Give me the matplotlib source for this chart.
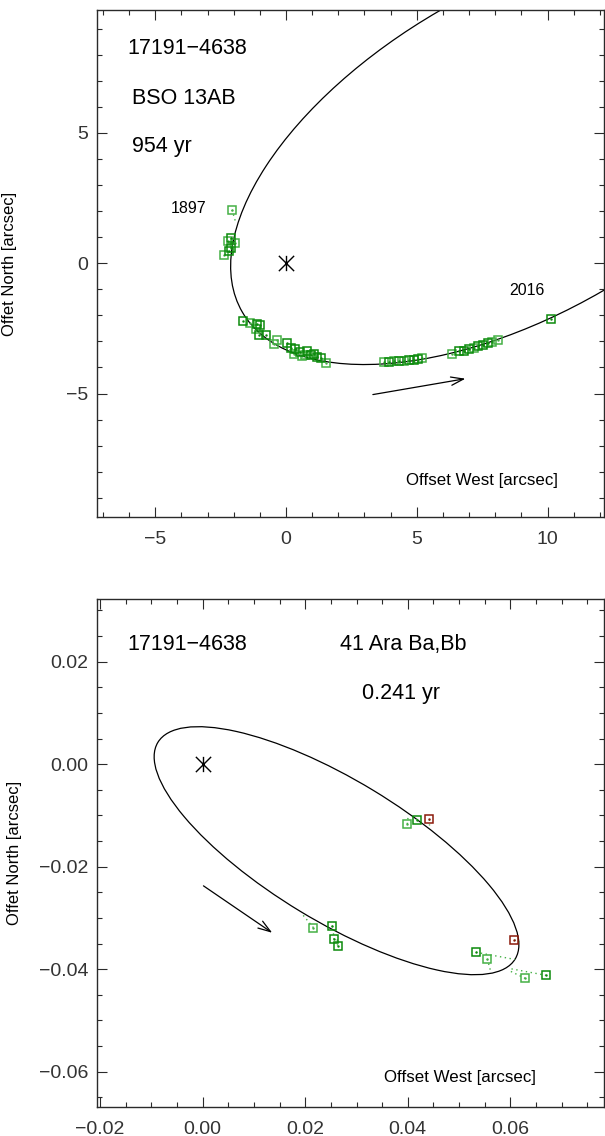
import numpy as np
import matplotlib

matplotlib.use("Agg")
import matplotlib.pyplot as plt
from matplotlib.patches import Ellipse
from matplotlib.path import Path
from matplotlib.ticker import MultipleLocator, FuncFormatter

plt.rcParams["font.family"] = ["Liberation Sans", "DejaVu Sans"]

# ---- top panel: BSO 13AB (954 yr) ----
top_orbit = dict(center=(8.972, 4.304), width=24.615, height=12.433, angle=30.14)
top_dark_x = [-2.12, -2.12, -2.17, -1.65, -1.13, -1.00, -1.04, -0.78, 0.05, 0.17,
              0.36, 0.55, 0.81, 0.94, 1.06, 1.19, 1.32, 3.92, 4.31, 4.69,
              4.88, 5.03, 6.60, 6.79, 6.98, 7.36, 7.55, 7.74, 10.12]
top_dark_y = [0.97, 0.57, 0.46, -2.23, -2.32, -2.36, -2.74, -2.77, -3.05, -3.26,
              -3.28, -3.41, -3.35, -3.54, -3.47, -3.60, -3.64, -3.80, -3.76, -3.73,
              -3.70, -3.68, -3.37, -3.35, -3.30, -3.19, -3.14, -3.07, -2.15]
top_light_x = [-2.07, -2.37, -2.21, -1.97, -1.38, -1.16, -0.47, -0.34, 0.30, 0.62,
               0.74, 1.51, 3.73, 4.11, 4.50, 5.20, 6.34, 7.17, 7.87, 8.12]
top_light_y = [2.05, 0.31, 0.87, 0.78, -2.28, -2.54, -3.09, -2.96, -3.47, -3.56,
               -3.51, -3.82, -3.80, -3.77, -3.74, -3.64, -3.50, -3.26, -3.03, -2.94]
top_resid = [((-2.07, -1.92), (2.05, 1.55))]
top_arrow = ((3.32, -5.04), (6.86, -4.43))

# ---- bottom panel: 41 Ara Ba,Bb (0.241 yr) ----
bot_orbit = dict(center=(0.026097, -0.016881), width=0.081496, height=0.027566, angle=-31.24)
bot_dark_x = [0.0418, 0.0252, 0.0256, 0.0263, 0.0533, 0.0670]
bot_dark_y = [-0.0109, -0.0315, -0.0342, -0.0354, -0.0367, -0.0412]
bot_dark_fit_x = [0.0415, 0.0255, 0.0255, 0.0262, 0.0609, 0.0600]
bot_dark_fit_y = [-0.0102, -0.0323, -0.0330, -0.0334, -0.0381, -0.0399]
bot_light_x = [0.0399, 0.0216, 0.0555, 0.0629]
bot_light_y = [-0.0117, -0.0319, -0.0380, -0.0418]
bot_light_fit_x = [0.0401, 0.0196, 0.0561, 0.0596]
bot_light_fit_y = [-0.0098, -0.0295, -0.0402, -0.0402]
bot_red_x = [0.0441, 0.0608]
bot_red_y = [-0.0106, -0.0343]
bot_red_fit_x = [0.0441, 0.0618]
bot_red_fit_y = [-0.0118, -0.0346]
bot_arrow = ((0.00015, -0.02374), (0.01356, -0.0329))

DARK = "#0b8a0b"
LIGHT = "#45b045"
RED = "#8b1a0a"
AXC = "#2a2a2a"

W, H = 605, 1136

# IDL-style asterisk: vertical bar plus a diagonal cross
ASTERISK = Path(
    [(0, -1), (0, 1), (-1, -1), (1, 1), (-1, 1), (1, -1)],
    [Path.MOVETO, Path.LINETO, Path.MOVETO, Path.LINETO, Path.MOVETO, Path.LINETO],
)


def px_axes(left, top, width, height):
    return [left / W, 1 - (top + height) / H, width / W, height / H]


def style_axes(ax, major, minor, fmt):
    label = FuncFormatter(lambda v, pos: (fmt % v).replace("-", "\u2212"))
    ax.xaxis.set_major_locator(MultipleLocator(major))
    ax.xaxis.set_minor_locator(MultipleLocator(minor))
    ax.yaxis.set_major_locator(MultipleLocator(major))
    ax.yaxis.set_minor_locator(MultipleLocator(minor))
    ax.xaxis.set_major_formatter(label)
    ax.yaxis.set_major_formatter(label)
    ax.tick_params(which="both", direction="in", top=True, right=True,
                   color=AXC, width=0.8, labelcolor="#333333", labelsize=14)
    ax.tick_params(which="major", length=7)
    ax.tick_params(which="minor", length=3.8)
    ax.tick_params(axis="x", which="major", pad=10)
    ax.tick_params(axis="y", which="major", pad=6)
    for s in ax.spines.values():
        s.set_color(AXC)
        s.set_linewidth(1.0)


def draw_orbit(ax, orbit, arrow):
    ax.add_patch(Ellipse(orbit["center"], orbit["width"], orbit["height"],
                         angle=orbit["angle"], fill=False, lw=0.9, color="black"))
    ax.plot(0, 0, ls="none", marker=ASTERISK, ms=11, mew=1.0, color="black")
    ax.annotate("", xy=arrow[1], xytext=arrow[0],
                arrowprops=dict(arrowstyle="->,head_length=0.9,head_width=0.3",
                                lw=0.9, color="black", shrinkA=0, shrinkB=0))


def squares(ax, x, y, color):
    ax.plot(x, y, ls="none", marker="s", ms=6, mfc="none", mec=color, mew=1.1)
    ax.plot(x, y, ls="none", marker=".", ms=1.5, color=color)


def residuals(ax, x, y, fx, fy, color):
    for a, b, c, d in zip(x, y, fx, fy):
        ax.plot([a, c], [b, d], ls=(0, (1, 2.5)), lw=1.0, color=color)


def ptext(ax, x, y, s, size, box_top, box_h=507.5):
    ax.text((x - 96.5) / 507.5, 1 - (y - box_top) / box_h, s, fontsize=size,
            transform=ax.transAxes, ha="left", va="center")


fig = plt.figure(figsize=(W / 100, H / 100), dpi=100)

# top panel
ax1 = fig.add_axes(px_axes(96.5, 10, 507.5, 507.3))
draw_orbit(ax1, top_orbit, top_arrow)
for xs, ys in top_resid:
    ax1.plot(xs, ys, ls=(0, (1, 2.5)), lw=1.0, color=LIGHT)
squares(ax1, top_light_x, top_light_y, LIGHT)
squares(ax1, top_dark_x, top_dark_y, DARK)
ax1.set_xlim(-7.25, 12.16)
ax1.set_ylim(-9.75, 9.72)
style_axes(ax1, 5, 1, "%g")
ax1.set_ylabel("Offet North [arcsec]", fontsize=12)
ax1.yaxis.set_label_coords(-0.156, 0.5)

ptext(ax1, 127.5, 49, "17191\u22124638", 15.5, 10)
ptext(ax1, 132.5, 98.5, "BSO 13AB", 15.5, 10)
ptext(ax1, 132.5, 147, "954 yr", 15.5, 10)
ptext(ax1, 171, 209, "1897", 11.5, 10)
ptext(ax1, 509, 291, "2016", 11.5, 10)
ptext(ax1, 405.5, 481, "Offset West [arcsec]", 12.2, 10)

# bottom panel
ax2 = fig.add_axes(px_axes(96.5, 599, 507.5, 508.3))
draw_orbit(ax2, bot_orbit, bot_arrow)
residuals(ax2, bot_light_x, bot_light_y, bot_light_fit_x, bot_light_fit_y, LIGHT)
residuals(ax2, bot_dark_x, bot_dark_y, bot_dark_fit_x, bot_dark_fit_y, LIGHT)
residuals(ax2, bot_red_x, bot_red_y, bot_red_fit_x, bot_red_fit_y, LIGHT)
squares(ax2, bot_light_x, bot_light_y, LIGHT)
squares(ax2, bot_dark_x, bot_dark_y, DARK)
squares(ax2, bot_red_x, bot_red_y, RED)
ax2.set_xlim(-0.02071, 0.07826)
ax2.set_ylim(-0.06695, 0.03223)
style_axes(ax2, 0.02, 0.005, "%.2f")
ax2.set_ylabel("Offet North [arcsec]", fontsize=12)
ax2.yaxis.set_label_coords(-0.147, 0.5)

ptext(ax2, 127.5, 644, "17191\u22124638", 15.5, 599)
ptext(ax2, 340, 644, "41 Ara Ba,Bb", 15.5, 599)
ptext(ax2, 362, 693, "0.241 yr", 15.5, 599)
ptext(ax2, 383.5, 1077, "Offset West [arcsec]", 12.2, 599)

fig.savefig("out.png", dpi=100)
